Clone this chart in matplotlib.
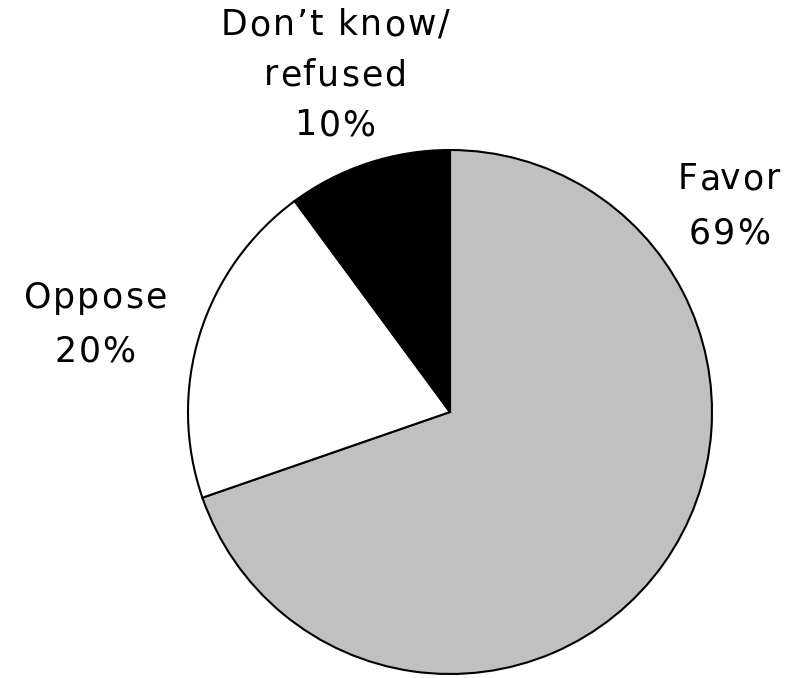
import matplotlib
matplotlib.use("Agg")
import matplotlib.pyplot as plt
from matplotlib.font_manager import FontProperties

categories = ["Favor", "Oppose", "Don\u2019t know/\nrefused"]
values = [69, 20, 10]
colors = ["#c0c0c0", "#ffffff", "#000000"]

W, H = 806, 678
fig = plt.figure(figsize=(W / 100, H / 100), dpi=100)
ax = fig.add_axes([0, 0, 1, 1])

ax.pie(values, colors=colors, startangle=90, counterclock=False,
       center=(450, H - 412), radius=262,
       wedgeprops=dict(edgecolor="black", linewidth=1.5))

# pie() resets the view, so fix the pixel-based frame afterwards
ax.set_xlim(0, W)
ax.set_ylim(0, H)
ax.set_aspect("equal")
ax.axis("off")

prop = FontProperties(family="DejaVu Sans", size=25)
renderer = fig.canvas.get_renderer()
TRACK = 2.0  # extra pixels between letters


def width_px(s):
    if not s:
        return 0.0
    w, _, _ = renderer.get_text_width_height_descent(s, prop, ismath=False)
    return w


def tracked_line(s, cx, baseline):
    """Draw one line centred on cx with widened letter spacing."""
    total = width_px(s) + TRACK * (len(s) - 1)
    x0 = cx - total / 2
    for i, ch in enumerate(s):
        x = x0 + width_px(s[:i]) + TRACK * i
        ax.text(x, H - baseline, ch, fontproperties=prop, ha="left",
                va="baseline", color="black")


# label anchors: centre x, first baseline, line gap (pixels from top-left)
label_pos = [(729, 189, 54), (95, 308, 54), (335, 35, 50)]
for cat, val, (cx, base, gap) in zip(categories, values, label_pos):
    lines = f"{cat}\n{val}%".split("\n")
    for k, line in enumerate(lines):
        tracked_line(line, cx, base + k * gap)

fig.savefig("out.png", dpi=100)
